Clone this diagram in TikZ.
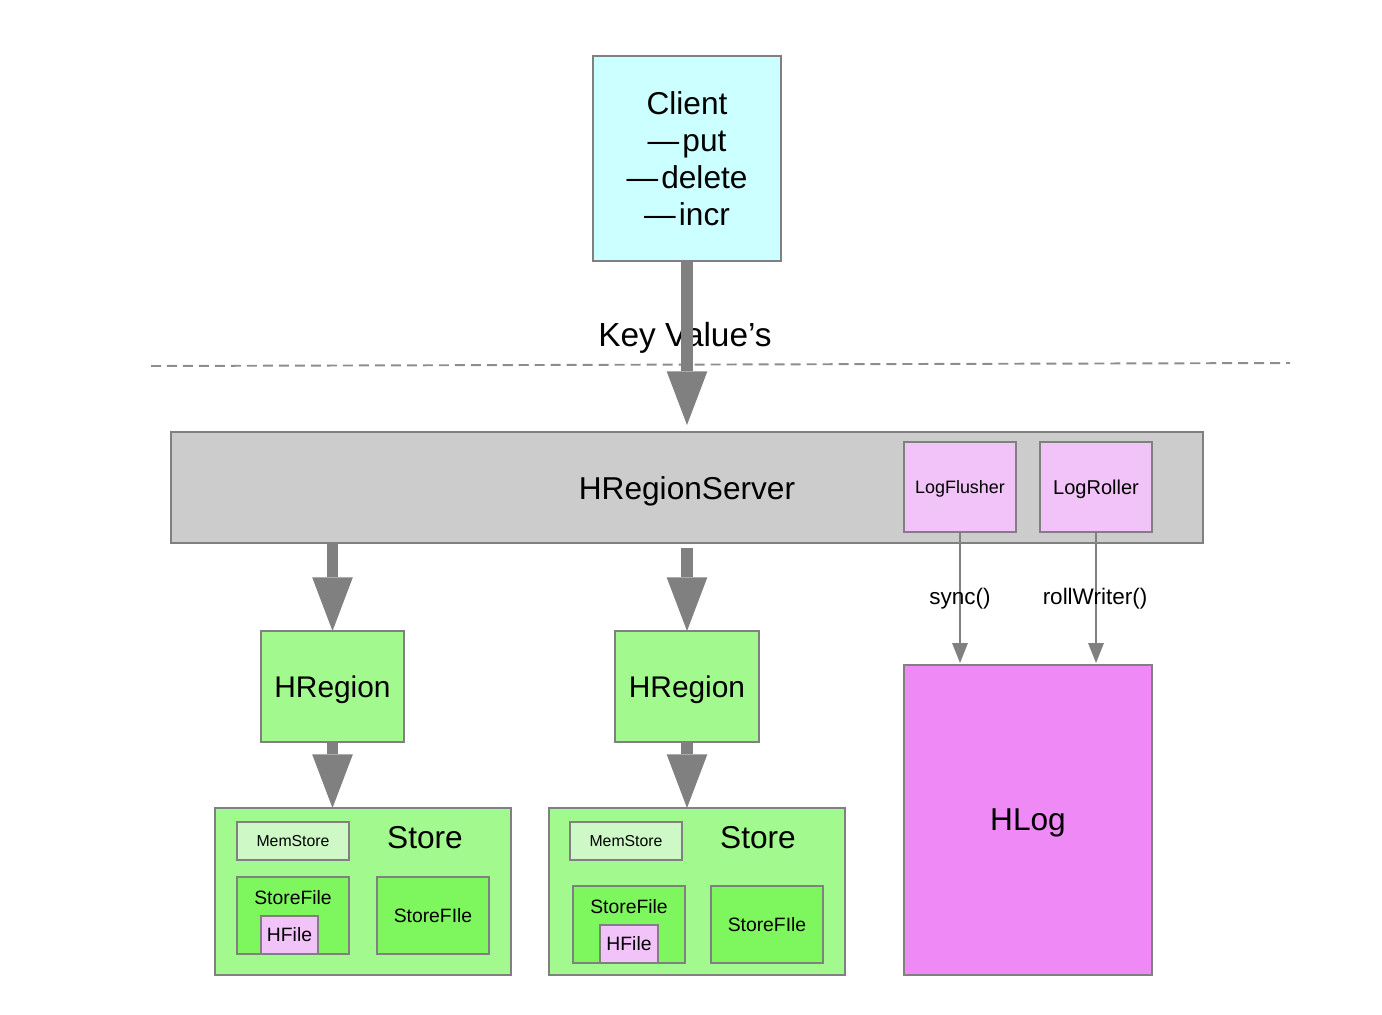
\documentclass[tikz,border=0pt]{standalone}
\usepackage{fontspec}
\setmainfont{Liberation Sans}
\usepackage{tikz}
\usetikzlibrary{arrows.meta}

\definecolor{clientcyan}{HTML}{CCFFFF}
\definecolor{servergray}{HTML}{CCCCCC}
\definecolor{logpink}{HTML}{F2C3F8}
\definecolor{hlogviolet}{HTML}{EF89F5}
\definecolor{regiongreen}{HTML}{A2F98E}
\definecolor{memgreen}{HTML}{CEF9C6}
\definecolor{filegreen}{HTML}{7EF65E}
\definecolor{edgegray}{HTML}{808080}

\newcommand{\bigfont}{\fontsize{18}{21}\selectfont}
\newcommand{\midfont}{\fontsize{11}{13}\selectfont}
\newcommand{\callfont}{\fontsize{12.8}{14}\selectfont}

\begin{document}
\begin{tikzpicture}[x=0.02cm, y=-0.02cm,
    box/.style={draw=edgegray, line width=1.1pt, inner sep=0pt, outer sep=0pt},
    fatarrow/.style={draw=edgegray, line width=6.8pt, -{Triangle[width=23.2pt,length=30.6pt,line width=0pt]}},
    thinarrow/.style={draw=edgegray, line width=1.1pt, -{Triangle[width=9pt,length=11.3pt,line width=0pt]}}]
                \useasboundingbox (0,0) rectangle (1382,1014);
                \node[box, fill=clientcyan, minimum width=3.76cm, minimum height=4.1cm, align=center, font=\bigfont] (client) at (687,158.5) {Client\\—\kern0.1em put\\—\kern0.1em delete\\—\kern0.1em incr};
                \node[font=\fontsize{19}{22}\selectfont] (kv) at (685,338) {Key Value’s};
                \coordinate (sepL) at (151,366);
                \coordinate (sepR) at (1290,363);
                \draw[edgegray!90, line width=1.1pt, dash pattern=on 5.7pt off 3.4pt] (sepL) -- (sepR);
                \node[box, fill=servergray, minimum width=20.64cm, minimum height=2.22cm] (server) at (687,487.5) {};
                \node[font=\bigfont] (serverlbl) at (687,491) {HRegionServer};
                \node[box, fill=logpink, minimum width=2.24cm, minimum height=1.8cm, text depth=0pt, font=\fontsize{10.2}{12}\selectfont] (flusher) at (960,487) {LogFlusher};
                \node[box, fill=logpink, minimum width=2.24cm, minimum height=1.8cm, text depth=0pt, font=\fontsize{11.4}{13}\selectfont] (roller) at (1096,487) {LogRoller};
                \node[box, fill=hlogviolet, minimum width=4.96cm, minimum height=6.2cm, text depth=0pt, font=\bigfont] (hlog) at (1028,820) {HLog};
                \node[box, fill=regiongreen, minimum width=2.86cm, minimum height=2.22cm, text depth=0pt, font=\fontsize{17}{20}\selectfont] (region1) at (332.5,686.5) {HRegion};
                \node[box, fill=regiongreen, minimum width=2.88cm, minimum height=2.22cm, text depth=0pt, font=\fontsize{17}{20}\selectfont] (region2) at (687,686.5) {HRegion};
                % left store
                \node[box, fill=regiongreen, minimum width=5.92cm, minimum height=3.34cm] (store1) at (363,891.5) {};
                \node[font=\bigfont] (store1lbl) at (425,838) {Store};
                \node[box, fill=memgreen, minimum width=2.24cm, minimum height=0.76cm, font=\fontsize{9}{11}\selectfont] (mem1) at (293,841) {MemStore};
                \node[box, fill=filegreen, minimum width=2.24cm, minimum height=1.54cm] (sfile1) at (293,915.5) {};
                \node[font=\midfont] (sfile1lbl) at (293,898) {StoreFile};
                \node[box, fill=logpink, minimum width=1.14cm, minimum height=0.76cm, font=\midfont] (hfile1) at (289.5,935) {HFile};
                \node[box, fill=filegreen, minimum width=2.24cm, minimum height=1.54cm, font=\midfont] (sfileb1) at (433,915.5) {StoreFIle};
                % right store
                \node[box, fill=regiongreen, minimum width=5.92cm, minimum height=3.34cm] (store2) at (697,891.5) {};
                \node[font=\bigfont] (store2lbl) at (758,838) {Store};
                \node[box, fill=memgreen, minimum width=2.24cm, minimum height=0.76cm, font=\fontsize{9}{11}\selectfont] (mem2) at (626,841) {MemStore};
                \node[box, fill=filegreen, minimum width=2.24cm, minimum height=1.54cm] (sfile2) at (629,924.5) {};
                \node[font=\midfont] (sfile2lbl) at (629,907) {StoreFile};
                \node[box, fill=logpink, minimum width=1.16cm, minimum height=0.76cm, font=\midfont] (hfile2) at (629,944) {HFile};
                \node[box, fill=filegreen, minimum width=2.24cm, minimum height=1.54cm, font=\midfont] (sfileb2) at (767,924.5) {StoreFIle};
                % arrows
                \draw[fatarrow, shorten >=0.14cm] (client.south) -- (server.north);
                \draw[fatarrow] (server.south -| region1.north) -- (region1.north);
                \draw[fatarrow, shorten <=0.1cm] (server.south -| region2.north) -- (region2.north);
                \draw[fatarrow] (region1.south) -- (region1.south |- store1.north);
                \draw[fatarrow] (region2.south) -- (region2.south |- store2.north);
                \draw[thinarrow, shorten >=0.04cm] (flusher.south) -- (flusher.south |- hlog.north);
                \draw[thinarrow, shorten >=0.04cm] (roller.south) -- (roller.south |- hlog.north);
                \node[font=\callfont] (sync) at (960,599) {sync()};
                \node[font=\callfont] (rollw) at (1095,599) {rollWriter()};
              \end{tikzpicture}
\end{document}
